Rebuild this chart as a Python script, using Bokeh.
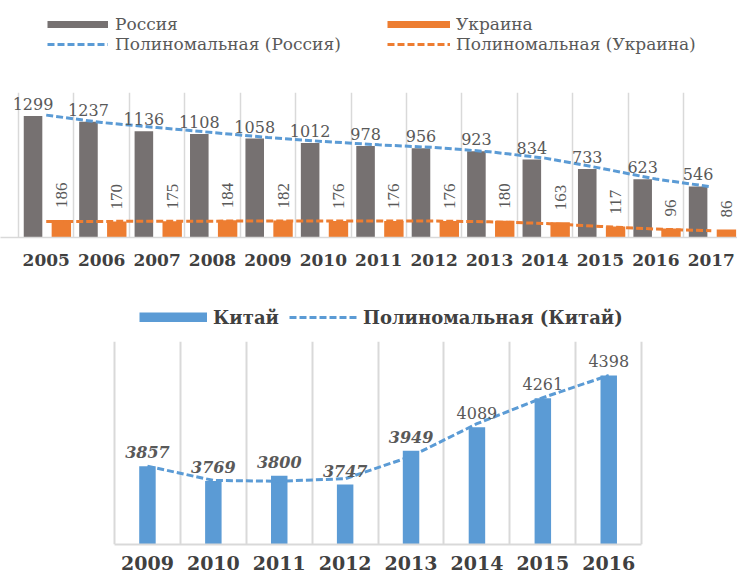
import numpy as np
from bokeh.plotting import figure
from bokeh.models import (ColumnDataSource, Range1d, FixedTicker,
                          Legend, LegendItem)
from bokeh.transform import dodge
from bokeh.layouts import column
from bokeh.embed import file_html
from bokeh.resources import INLINE
from bokeh.core.properties import value

# ---- data: top chart ----
years_top = ["2005", "2006", "2007", "2008", "2009", "2010", "2011",
             "2012", "2013", "2014", "2015", "2016", "2017"]
russia = [1299, 1237, 1136, 1108, 1058, 1012, 978, 956, 923, 834, 733, 623, 546]
ukraine = [186, 170, 175, 184, 182, 176, 176, 176, 180, 163, 117, 96, 86]
russia_trend = [1309, 1230, 1176, 1123, 1070, 1027, 991, 963, 917, 849, 742, 625, 542]
ukraine_trend = [170, 172, 174, 175, 176, 176, 176, 176, 168, 150, 118, 90, 72]

# ---- data: bottom chart ----
years_bottom = ["2009", "2010", "2011", "2012", "2013", "2014", "2015", "2016"]
china = [3857, 3769, 3800, 3747, 3949, 4089, 4261, 4398]
china_trend = [3857, 3772, 3767, 3782, 3915, 4110, 4265, 4398]

SERIF = "DejaVu Serif"
GRAY_TXT = "#595959"
DARK_TXT = "#404040"
GRID = "#d9d9d9"
RU_COL = "#767171"
UA_COL = "#ED7D31"
BLUE = "#5B9BD5"
W = 737

idx1 = np.arange(len(years_top))
src1 = ColumnDataSource(dict(
    idx=idx1, russia=russia, ukraine=ukraine,
    rt=russia_trend, ut=ukraine_trend,
    r_lbl=[str(v) for v in russia], u_lbl=[str(v) for v in ukraine]))

idx2 = np.arange(len(years_bottom))
src2 = ColumnDataSource(dict(idx=idx2, china=china, ct=china_trend,
                             c_lbl=[str(v) for v in china],
                             c_style=["bold italic"] * 5 + ["normal"] * 3))


def blank_fig(height):
    f = figure(width=W, height=height, x_range=Range1d(0, 1), y_range=Range1d(0, 1),
               output_backend="svg", toolbar_location=None,
               min_border_left=0, min_border_right=0,
               min_border_top=0, min_border_bottom=0)
    f.outline_line_color = None
    f.xaxis.visible = False
    f.yaxis.visible = False
    f.xgrid.grid_line_color = None
    f.ygrid.grid_line_color = None
    return f


def legend(items, loc, **kw):
    opts = dict(border_line_color=None, background_fill_alpha=0, padding=0, margin=0,
                label_text_font=SERIF, label_text_color=GRAY_TXT)
    opts.update(kw)
    return Legend(items=items, location=loc, **opts)


# ================= top legend strip =================
# (legend proxies reuse the chart data but lie outside this strip's ranges)
lf1 = blank_fig(92)
g_ru = lf1.line(x="idx", y="russia", source=src1, line_color=RU_COL, line_width=7)
g_rut = lf1.line(x="idx", y="rt", source=src1, line_color=BLUE, line_width=3,
                 line_dash="7 3")
g_ua = lf1.line(x="idx", y="ukraine", source=src1, line_color=UA_COL, line_width=7)
g_uat = lf1.line(x="idx", y="ut", source=src1, line_color=UA_COL, line_width=3,
                 line_dash="7 3")
lf1.add_layout(legend([LegendItem(label="Россия", renderers=[g_ru]),
                       LegendItem(label="Полиномальная (Россия)", renderers=[g_rut])],
                      (47, 38), orientation="vertical", glyph_width=61, glyph_height=8,
                      label_height=20, spacing=0, label_standoff=7,
                      label_text_font_size="17px"), "center")
lf1.add_layout(legend([LegendItem(label="Украина", renderers=[g_ua]),
                       LegendItem(label="Полиномальная (Украина)", renderers=[g_uat])],
                      (387, 38), orientation="vertical", glyph_width=63, glyph_height=8,
                      label_height=20, spacing=0, label_standoff=6,
                      label_text_font_size="17px"), "center")

# ================= top figure =================
p1 = figure(x_range=Range1d(-0.825, 12.473), y_range=Range1d(0, 1551),
            width=W, height=183,
            output_backend="svg", toolbar_location=None,
            min_border_left=0, min_border_right=0,
            min_border_top=0, min_border_bottom=38)
p1.outline_line_color = None
p1.yaxis.visible = False
p1.ygrid.grid_line_color = None
p1.xgrid.ticker = FixedTicker(ticks=[-0.5] + list(idx1 + 0.5))
p1.xgrid.grid_line_color = GRID
p1.xgrid.grid_line_width = 1.5

p1.vbar(x=dodge("idx", -0.238), top="russia", width=0.335,
        source=src1, fill_color=RU_COL, line_color=None)
p1.vbar(x=dodge("idx", 0.273), top="ukraine", width=0.35,
        source=src1, fill_color=UA_COL, line_color=None)
p1.line(x="idx", y="rt", source=src1, line_color=BLUE, line_width=3, line_dash="7 3")
p1.line(x="idx", y="ut", source=src1, line_color=UA_COL, line_width=3, line_dash="7 3")

p1.text(x=dodge("idx", -0.238), y="russia", text="r_lbl",
        source=src1, text_align="center", text_baseline="bottom", y_offset=-6,
        text_font=value(SERIF), text_font_size="16px", text_color=GRAY_TXT)
p1.text(x=dodge("idx", 0.273), y="ukraine", text="u_lbl",
        source=src1, angle=np.pi / 2, text_align="left", text_baseline="middle",
        y_offset=-12, text_font=value("Liberation Serif"), text_font_size="17px",
        text_color=GRAY_TXT)

ax = p1.xaxis[0]
ax.ticker = FixedTicker(ticks=list(idx1))
ax.major_label_overrides = {int(i): y for i, y in zip(idx1, years_top)}
ax.axis_line_color = GRID
ax.axis_line_width = 1.5
ax.major_tick_line_color = None
ax.minor_tick_line_color = None
ax.major_label_standoff = 10
ax.major_label_text_font = SERIF
ax.major_label_text_font_size = "17px"
ax.major_label_text_font_style = "bold"
ax.major_label_text_color = DARK_TXT

# ================= bottom legend strip =================
lf2 = blank_fig(63)
g_cn = lf2.line(x="idx", y="china", source=src2, line_color=BLUE, line_width=10)
g_cnt = lf2.line(x="idx", y="ct", source=src2, line_color=BLUE, line_width=3,
                 line_dash="7 3")
lf2.add_layout(legend([LegendItem(label="Китай", renderers=[g_cn]),
                       LegendItem(label="Полиномальная (Китай)", renderers=[g_cnt])],
                      (139, 10), orientation="horizontal", glyph_width=68,
                      glyph_height=10, label_height=22, spacing=10, label_standoff=6,
                      label_text_font_size="18px", label_text_font_style="bold",
                      label_text_color=DARK_TXT), "center")

# ================= bottom figure =================
p2 = figure(x_range=Range1d(-2.230, 8.954), y_range=Range1d(3390, 4600),
            width=W, height=235,
            output_backend="svg", toolbar_location=None,
            min_border_left=0, min_border_right=0,
            min_border_top=3, min_border_bottom=29)
p2.outline_line_color = None
p2.yaxis.visible = False
p2.ygrid.grid_line_color = None
p2.xgrid.ticker = FixedTicker(ticks=[-0.5] + list(idx2 + 0.5))
p2.xgrid.grid_line_color = GRID
p2.xgrid.grid_line_width = 2

p2.vbar(x="idx", top="china", width=0.25, source=src2,
        fill_color=BLUE, line_color=None)
p2.line(x="idx", y="ct", source=src2, line_color=BLUE, line_width=3, line_dash="7 3")
p2.text(x="idx", y="china", text="c_lbl", source=src2, text_align="center",
        text_baseline="bottom", y_offset=-8, text_font=value(SERIF),
        text_font_size="16px", text_font_style="c_style", text_color=GRAY_TXT)

ax2 = p2.xaxis[0]
ax2.ticker = FixedTicker(ticks=list(idx2))
ax2.major_label_overrides = {int(i): y for i, y in zip(idx2, years_bottom)}
ax2.bounds = (-0.5, len(years_bottom) - 0.5)
ax2.axis_line_color = GRID
ax2.axis_line_width = 2
ax2.major_tick_line_color = None
ax2.minor_tick_line_color = None
ax2.major_label_standoff = 5
ax2.major_label_text_font = SERIF
ax2.major_label_text_font_size = "19px"
ax2.major_label_text_font_style = "bold"
ax2.major_label_text_color = DARK_TXT

layout = column(lf1, p1, lf2, p2)
open("out.html", "w").write(file_html(layout, INLINE))
